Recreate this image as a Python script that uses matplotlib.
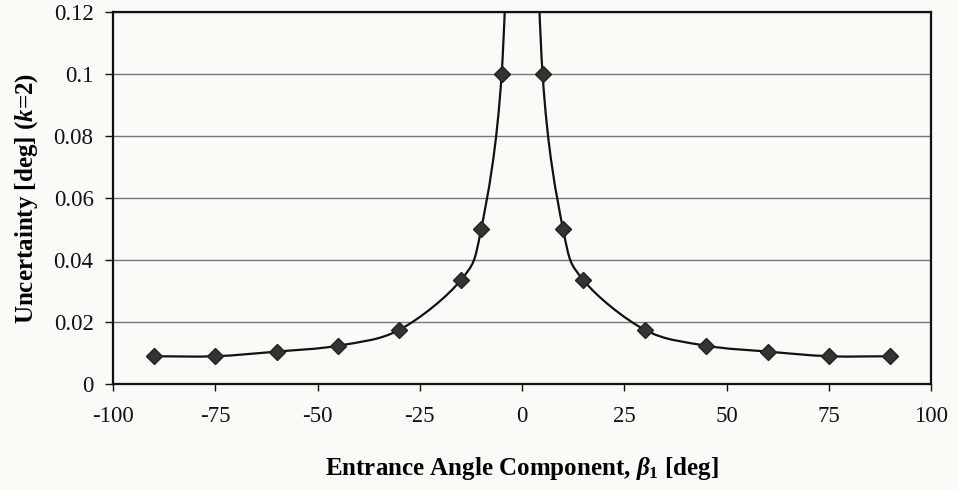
import matplotlib
matplotlib.use("Agg")
import matplotlib.pyplot as plt
import numpy as np
from matplotlib.path import Path
from matplotlib.patches import PathPatch

# Uncertainty vs entrance angle (two branches, the curve blows up near 0)
angle_neg = [-90, -75, -60, -45, -30, -15, -10, -5, -2.5]
unc_neg = [0.009, 0.009, 0.0105, 0.0124, 0.0175, 0.0335, 0.050, 0.100, 0.200]
angle_pos = [2.5, 5, 10, 15, 30, 45, 60, 75, 90]
unc_pos = [0.200, 0.100, 0.050, 0.0335, 0.0175, 0.0124, 0.0105, 0.009, 0.009]

x_ticks = [-100, -75, -50, -25, 0, 25, 50, 75, 100]
y_ticks = [0, 0.02, 0.04, 0.06, 0.08, 0.1, 0.12]
y_labels = ["0", "0.02", "0.04", "0.06", "0.08", "0.1", "0.12"]

plt.rcParams['font.family'] = ['Liberation Serif', 'DejaVu Serif']
plt.rcParams['axes.unicode_minus'] = False
plt.rcParams['mathtext.fontset'] = 'custom'
plt.rcParams['mathtext.rm'] = 'Liberation Serif:bold'
plt.rcParams['mathtext.it'] = 'Liberation Serif:italic:bold'
plt.rcParams['mathtext.bf'] = 'Liberation Serif:bold'


def smooth_path(xs, ys):
    # Excel-style smoothed line: cubic Bezier through each point (Catmull-Rom)
    pts = np.column_stack([xs, ys])
    n = len(pts)
    verts = [pts[0]]
    codes = [Path.MOVETO]
    for i in range(n - 1):
        p0 = pts[max(i - 1, 0)]
        p1 = pts[i]
        p2 = pts[i + 1]
        p3 = pts[min(i + 2, n - 1)]
        c1 = p1 + (p2 - p0) / 6.0
        c2 = p2 - (p3 - p1) / 6.0
        verts += [c1, c2, p2]
        codes += [Path.CURVE4] * 3
    return Path(verts, codes)


bg = '#fbfaf7'
fig = plt.figure(figsize=(9.58, 4.90), dpi=100, facecolor=bg)
ax = fig.add_axes([0.118, 0.216, 0.854, 0.760], facecolor=bg)

for xs, ys in [(angle_neg, unc_neg), (angle_pos, unc_pos)]:
    ax.add_patch(PathPatch(smooth_path(xs, ys), facecolor='none',
                           edgecolor='#111111', linewidth=1.6, zorder=3))
    ax.plot(xs, ys, linestyle='none', marker='D', markersize=7.8,
            color='#333333', markeredgecolor='#222222', zorder=4)

ax.set_xlim(-100, 100)
ax.set_ylim(0, 0.12)
ax.set_xticks(x_ticks)
ax.set_xticklabels([str(t) for t in x_ticks])
ax.set_yticks(y_ticks)
ax.set_yticklabels(y_labels)
ax.yaxis.grid(True, color='#777777', linewidth=1.0)
ax.set_axisbelow(True)

for side in ['left', 'bottom', 'right', 'top']:
    ax.spines[side].set_color('#111111')
    ax.spines[side].set_linewidth(1.6)

ax.tick_params(axis='both', direction='out', labelsize=16.5, colors='#111111')
ax.tick_params(axis='y', length=6, width=1.0, pad=8)
ax.tick_params(axis='x', length=5, width=1.0, pad=11)

ax.set_xlabel(r'Entrance Angle Component, $\mathit{\beta}_{1}$ [deg]',
              fontsize=18, fontweight='bold', labelpad=20)
ax.set_ylabel(r'Uncertainty [deg] ($\mathit{k}$=2)',
              fontsize=18, fontweight='bold', labelpad=10)

fig.savefig('out.png', dpi=100, facecolor=bg)
